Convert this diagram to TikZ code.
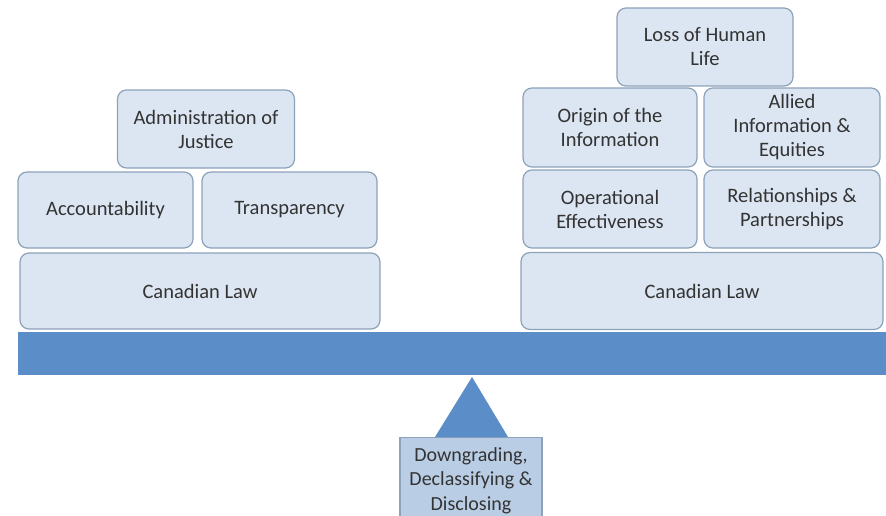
\documentclass[tikz,border=0pt]{standalone}
\usepackage{fontspec}
\setmainfont{Carlito}
\definecolor{boxfill}{HTML}{DCE6F2}
\definecolor{boxline}{HTML}{8EA2BA}
\definecolor{beamblue}{HTML}{5B8EC9}
\definecolor{pivotfill}{HTML}{B9CDE5}
\definecolor{txt}{HTML}{333333}
\tikzset{
  weight/.style={draw=boxline, fill=boxfill, rounded corners=9pt, line width=1.2pt,
    text=txt, align=center, inner sep=0pt, font=\fontsize{20.5}{24}\selectfont},
}
\begin{document}
\begin{tikzpicture}[x=1pt,y=-1pt]
  \useasboundingbox (0,0) rectangle (886,516);
  \fill[white] (0,0) rectangle (886,516);
  % the beam
  \fill[beamblue] (18,332) rectangle (890,375);
  % left pan
  \node[weight, minimum width=360pt, minimum height=76pt] (lawL) at (200,291) {Canadian Law};
  \node[weight, minimum width=175pt, minimum height=76pt] (account) at (105.5,210) {Accountability};
  \node[weight, minimum width=175pt, minimum height=76pt] (transp) at (289.5,210) {Transparency};
  \node[weight, minimum width=177pt, minimum height=78pt] (justice) at (206,129) {Administration of\\Justice};
  % right pan
  \node[weight, minimum width=362pt, minimum height=77pt] (lawR) at (702,291) {Canadian Law};
  \node[weight, minimum width=174pt, minimum height=78pt] (operat) at (610,209) {Operational\\Effectiveness};
  \node[weight, minimum width=176pt, minimum height=78pt] (relat) at (792,209) {Relationships \&\\Partnerships};
  \node[weight, minimum width=174pt, minimum height=79pt] (origin) at (610,127.5) {Origin of the\\Information};
  \node[weight, minimum width=176pt, minimum height=79pt] (allied) at (792,127.5) {Allied\\Information \&\\Equities};
  \node[weight, minimum width=176pt, minimum height=78pt] (life) at (705,47) {Loss of Human\\Life};
  % fulcrum
  \node[draw=boxline, fill=pivotfill, line width=1.2pt, text=txt, align=center, inner sep=0pt,
    minimum width=142pt, minimum height=86pt, anchor=north,
    font=\fontsize{20}{24.5}\selectfont] (pivot) at (471,437) {Downgrading,\\Declassifying \&\\Disclosing};
  \fill[beamblue] (435,437) -- (472,377) -- (508,437) -- cycle;
\end{tikzpicture}
\end{document}
